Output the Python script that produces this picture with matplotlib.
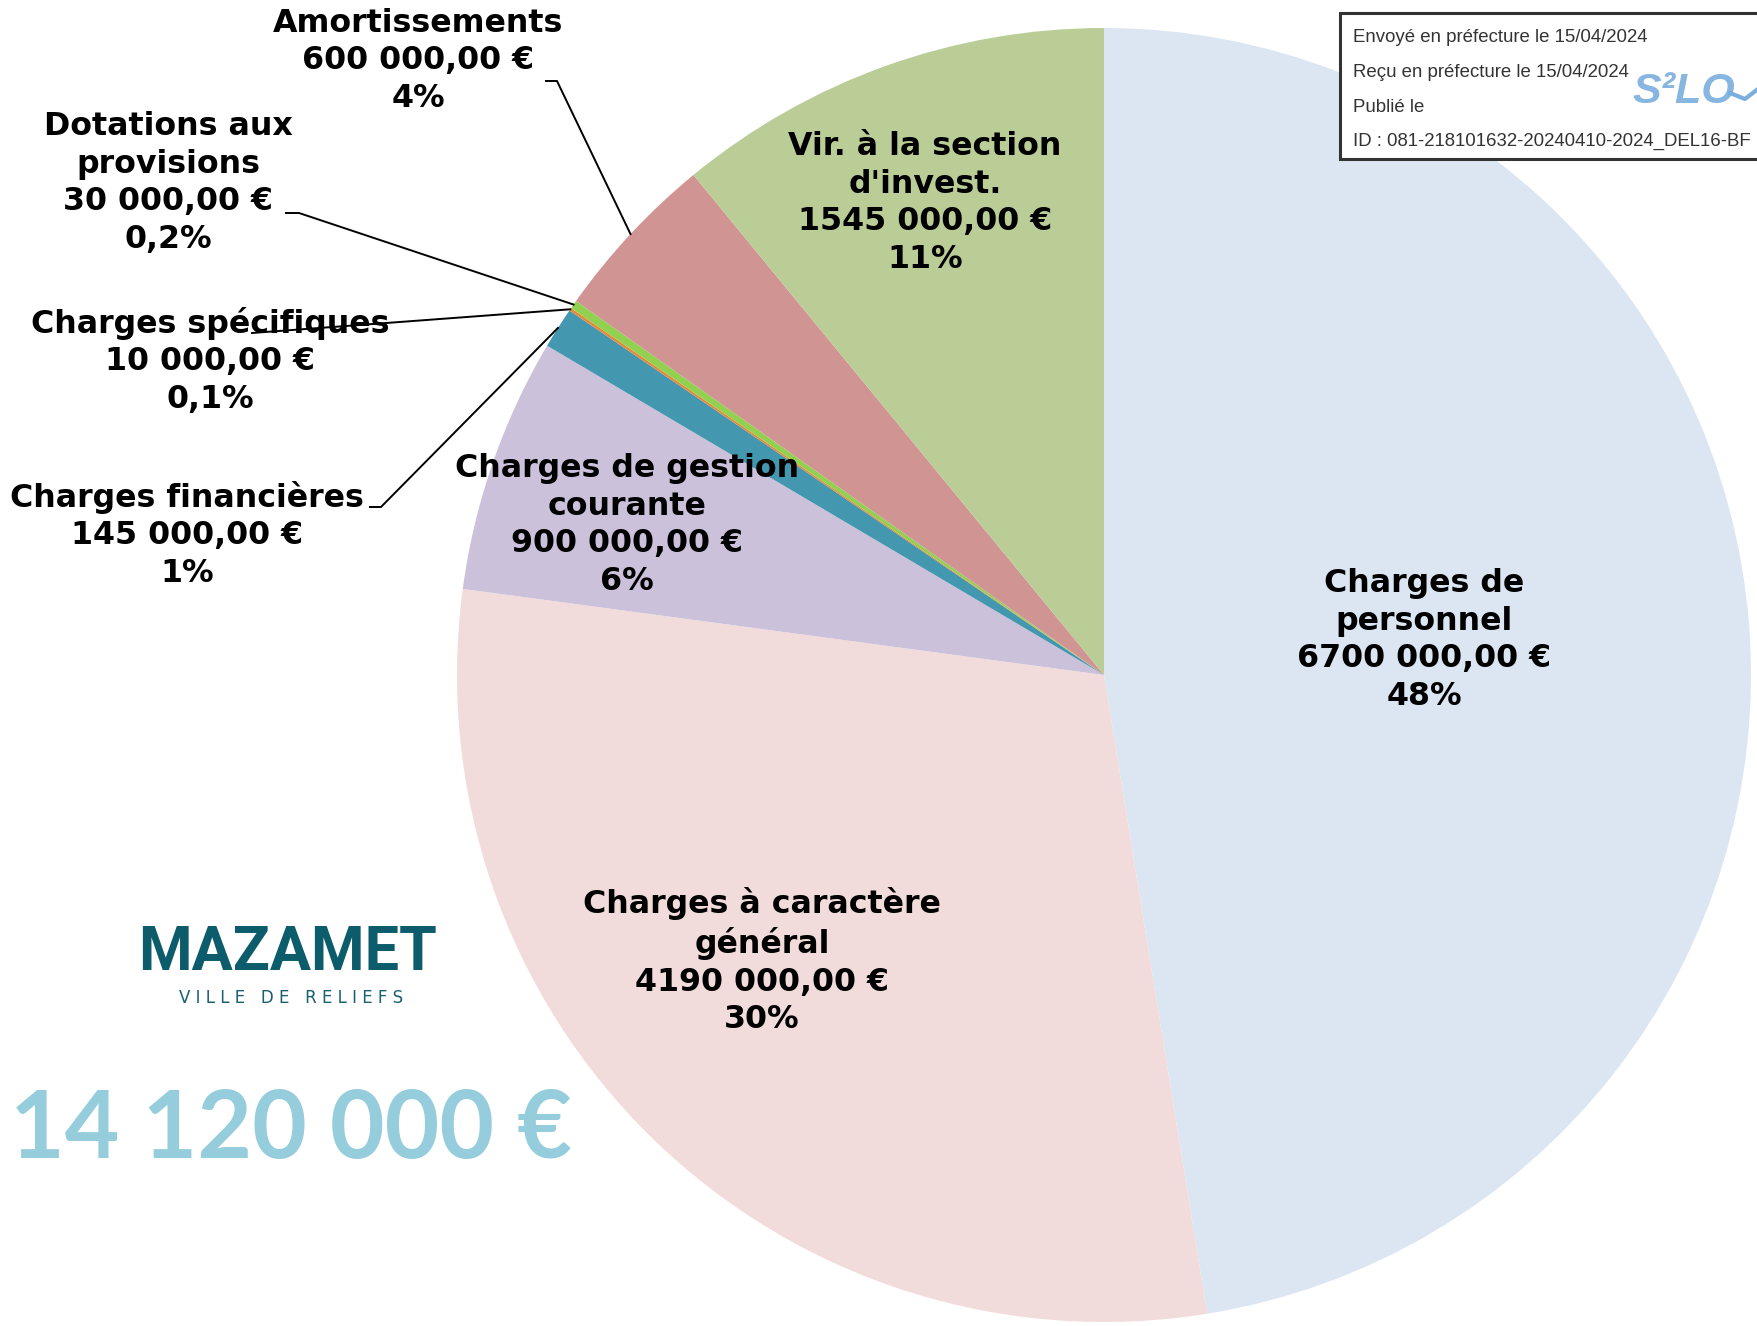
import numpy as np
import matplotlib
matplotlib.use("Agg")
import matplotlib.pyplot as plt
from matplotlib.patches import Rectangle

# budget de fonctionnement - dépenses (ordre horaire depuis midi)
categories = ["Charges de\npersonnel", "Charges à caractère\ngénéral",
              "Charges de gestion\ncourante", "Charges financières",
              "Charges spécifiques", "Dotations aux\nprovisions",
              "Amortissements", "Vir. à la section\nd'invest."]
values = [6700000, 4190000, 900000, 145000, 10000, 30000, 600000, 1545000]
pct_labels = ["48%", "30%", "6%", "1%", "0,1%", "0,2%", "4%", "11%"]
colors = ["#dce6f2", "#f2dcdb", "#ccc1da", "#4398b0",
          "#e8893a", "#92d050", "#d09493", "#bbcd97"]
total_label = "14 120 000 €"

box_lines = ["Envoyé en préfecture le 15/04/2024",
             "Reçu en préfecture le 15/04/2024",
             "Publié le",
             "ID : 081-218101632-20240410-2024_DEL16-BF"]

W, H = 1758, 1326
CX, CY, R = 1104, 675, 647


def fmt_eur(v):
    return f"{v // 1000} {v % 1000:03d},00 €"


def py(y):
    # image coords (top-down) -> axes coords
    return H - y


fig = plt.figure(figsize=(W / 100, H / 100), dpi=100)
ax = fig.add_axes([0, 0, 1, 1])

wedges, _ = ax.pie(values, colors=colors, startangle=90, counterclock=False,
                   center=(CX, py(CY)), radius=R, wedgeprops=dict(linewidth=0))
ax.set_xlim(0, W)
ax.set_ylim(0, H)
ax.set_aspect("equal")
ax.axis("off")

# label placement (image coords of text centre) and leader-line start points
label_pos = [(1424, 640), (762, 961), (627, 525), (187, 535),
             (210, 361), (168, 183), (418, 61), (925, 203)]
leaders = {3: [(370, 507), (381, 507)], 4: [(252, 333)],
           5: [(286, 213), (299, 213)], 6: [(546, 81), (557, 81)]}

lbl_font = dict(fontsize=22.8, fontweight="bold", family="DejaVu Sans",
                ha="center", va="center", linespacing=1.27, color="black")
for i, (cat, v, p) in enumerate(zip(categories, values, pct_labels)):
    x, y = label_pos[i]
    ax.text(x, py(y), f"{cat}\n{fmt_eur(v)}\n{p}", zorder=5, **lbl_font)
    if i in leaders:
        w = wedges[i]
        mid = np.deg2rad((w.theta1 + w.theta2) / 2)
        ex = CX + R * np.cos(mid)
        ey = py(CY) + R * np.sin(mid)
        xs = [pt[0] for pt in leaders[i]] + [ex]
        ys = [py(pt[1]) for pt in leaders[i]] + [ey]
        ax.plot(xs, ys, color="black", lw=1.4, zorder=6)

# stamp box (top right)
ax.add_patch(Rectangle((1340, py(159)), 440, 146, facecolor="white",
                       edgecolor="#333333", lw=2.2, zorder=7, clip_on=False))
for k, line in enumerate(box_lines):
    ax.text(1353, py(38 + 34.5 * k), line, fontsize=13.4, family="Liberation Sans",
            color="#333333", ha="left", va="center", zorder=8)
ax.text(1632, py(92), "S²LO", fontsize=31, family="Liberation Sans", style="italic",
        fontweight="bold", color="#7aaede", ha="left", va="center", zorder=8, alpha=0.9)
ax.plot([1730, 1745, 1758], [py(93), py(99), py(89)], color="#7aaede", lw=3, zorder=8)

# logo
ax.text(288, py(953), "MAZAMET", fontsize=44, family="Roboto", fontweight="bold",
        color="#0d5c6c", ha="center", va="center")
ax.text(291, py(998), "V I L L E   D E   R E L I E F S", fontsize=12,
        family="DejaVu Sans", color="#1a5f70", ha="center", va="center")

# total
ax.text(291, py(1131), total_label, fontsize=68, family="Lato", fontweight="bold",
        color="#95cddd", ha="center", va="center")

fig.savefig("out.png", dpi=100)
